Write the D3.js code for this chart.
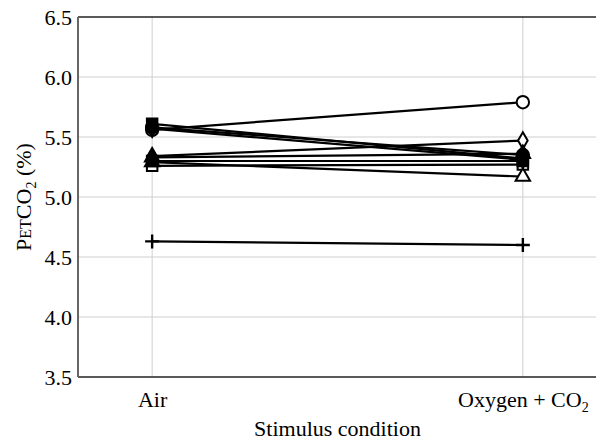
<!DOCTYPE html>
<html>
<head>
<meta charset="utf-8">
<script src="https://cdn.jsdelivr.net/npm/d3@7"></script>
<style>
  html, body { margin: 0; padding: 0; background: #fff; }
  svg { display: block; font-family: "Liberation Serif", "Times New Roman", serif; }
</style>
</head>
<body>
<svg id="chart" width="596" height="447"></svg>
<script>
// Stimulus conditions (x categories)
const conditions = ["Air", "Oxygen + CO2"];
// End-tidal CO2 (%) per subject, one value per condition
const airValues = [5.56, 5.61, 5.58, 5.57, 5.34, 5.33, 5.30, 5.26, 5.29, 4.63];
const oxyValues = [5.79, 5.32, 5.35, 5.31, 5.47, 5.36, 5.30, 5.27, 5.17, 4.60];
// Marker symbol and fill per subject
const symbolKinds = ["circle", "square", "circle", "diamond", "diamond", "triangle", "square", "square", "triangle", "plus"];
const symbolFilled = [false, true, true, true, false, true, true, false, false, true];
// Y axis ticks
const yTicks = [3.5, 4.0, 4.5, 5.0, 5.5, 6.0, 6.5];

const FS = 22;
const svg = d3.select("#chart");
const W = 596;
const x0 = 78, x1 = 597, y0 = 17, y1 = 377;

const x = d3.scalePoint().domain(conditions).range([x0, x1]).padding(0.2);
const y = d3.scaleLinear().domain([3.5, 6.5]).range([y1, y0]);

// Grid
const grid = svg.append("g");
grid.selectAll("line.h").data(yTicks.slice(1, -1)).join("line")
  .attr("x1", x0).attr("x2", x1)
  .attr("y1", d => y(d)).attr("y2", d => y(d))
  .attr("stroke", "#cfcfcf").attr("stroke-width", 1);
grid.selectAll("line.v").data(conditions).join("line")
  .attr("x1", d => x(d)).attr("x2", d => x(d))
  .attr("y1", y0).attr("y2", y1)
  .attr("stroke", "#cfcfcf").attr("stroke-width", 1);

// Frame
svg.append("line").attr("x1", x0).attr("x2", x1).attr("y1", y0).attr("y2", y0)
  .attr("stroke", "#222").attr("stroke-width", 1.5);
svg.append("line").attr("x1", x0).attr("x2", x1).attr("y1", y1).attr("y2", y1)
  .attr("stroke", "#222").attr("stroke-width", 1.5);
svg.append("line").attr("x1", x0).attr("x2", x0).attr("y1", y0).attr("y2", y1)
  .attr("stroke", "#666").attr("stroke-width", 2);

// Y axis tick labels
const yAxis = d3.axisLeft(y).tickValues(yTicks).tickFormat(d3.format(".1f")).tickSize(0).tickPadding(6);
const ya = svg.append("g").attr("transform", `translate(${x0},0)`).call(yAxis);
ya.select(".domain").remove();
ya.selectAll("text").attr("font-family", "Liberation Serif, serif").attr("font-size", FS).attr("fill", "#000");

// X axis tick labels
const xAxis = d3.axisBottom(x).tickSize(0).tickPadding(14).tickFormat("");
const xa = svg.append("g").attr("transform", `translate(0,${y1})`).call(xAxis);
xa.select(".domain").remove();
xa.selectAll(".tick").each(function(d) {
  const t = d3.select(this).select("text").text(null)
    .attr("font-family", "Liberation Serif, serif").attr("font-size", FS).attr("fill", "#000")
    .attr("dy", "0.71em");
  const m = d.match(/^(.*CO)2$/);
  if (m) {
    t.append("tspan").text(m[1]);
    t.append("tspan").text("2").attr("font-size", 14).attr("dy", 5);
  } else {
    t.text(d);
  }
});

// Axis titles
svg.append("text").attr("x", (x0 + x1) / 2).attr("y", 436)
  .attr("text-anchor", "middle").attr("font-size", FS).attr("fill", "#000")
  .text("Stimulus condition");

const yl = svg.append("text")
  .attr("transform", `translate(31,${(y0 + y1) / 2}) rotate(-90)`)
  .attr("text-anchor", "middle").attr("font-size", FS).attr("fill", "#000");
yl.append("tspan").text("P");
yl.append("tspan").text("ET").attr("font-size", 16);
yl.append("tspan").text("CO");
yl.append("tspan").text("2").attr("font-size", 14).attr("dy", 5);
yl.append("tspan").text(" (%)").attr("dy", -5);

// Subject lines
const subjects = d3.range(airValues.length).map(i => ({
  values: [airValues[i], oxyValues[i]],
  kind: symbolKinds[i],
  filled: symbolFilled[i]
}));

const line = d3.line().x((d, j) => x(conditions[j])).y(d => y(d));
svg.append("g").selectAll("path").data(subjects).join("path")
  .attr("d", d => line(d.values))
  .attr("fill", "none").attr("stroke", "#000").attr("stroke-width", 2.2);

// Markers: open ones first so the filled ones sit on top
const symbolMap = {
  circle: d3.symbol(d3.symbolCircle, 120),
  square: d3.symbol(d3.symbolSquare, 110),
  diamond: d3.symbol(d3.symbolDiamond, 80),
  triangle: d3.symbol(d3.symbolTriangle, 90)
};
const order = d3.range(subjects.length).sort((a, b) => (subjects[a].filled - subjects[b].filled));
const mg = svg.append("g");
order.forEach(i => {
  const s = subjects[i];
  s.values.forEach((v, j) => {
    const cx = x(conditions[j]), cy = y(v);
    if (s.kind === "plus") {
      mg.append("path")
        .attr("d", `M${cx - 7},${cy}H${cx + 7}M${cx},${cy - 7}V${cy + 7}`)
        .attr("stroke", "#000").attr("stroke-width", 2.4).attr("fill", "none");
    } else {
      mg.append("path")
        .attr("transform", `translate(${cx},${cy})`)
        .attr("d", symbolMap[s.kind]())
        .attr("fill", s.filled ? "#000" : "#fff")
        .attr("stroke", "#000").attr("stroke-width", 2);
    }
  });
});
</script>
</body>
</html>
